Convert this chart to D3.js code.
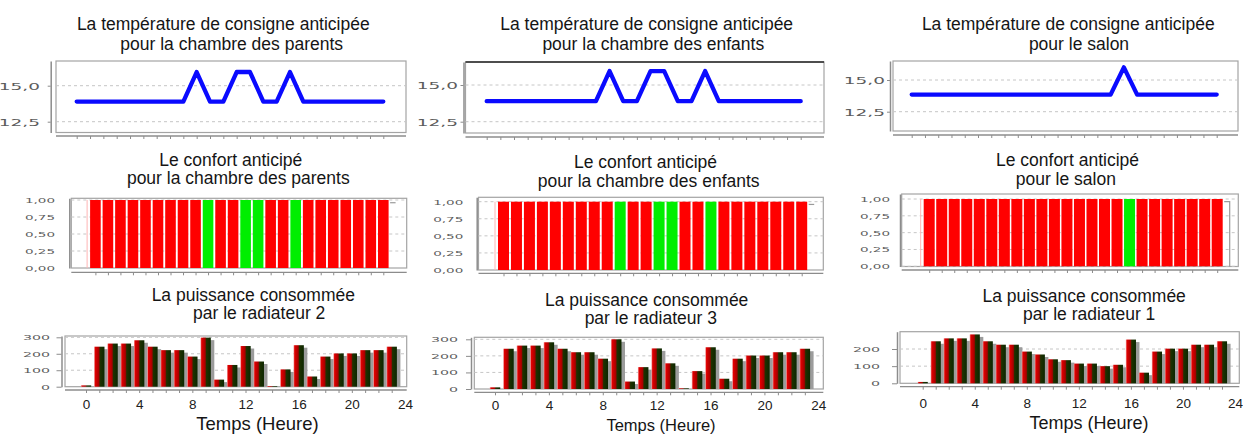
<!DOCTYPE html>
<html><head><meta charset="utf-8">
<script src="https://cdn.jsdelivr.net/npm/d3@7"></script>
<style>
html,body{margin:0;padding:0;background:#fff;}
svg{display:block;}
</style></head><body>
<svg id="chart" width="1243" height="435"></svg>
<script>
// ---------------- DATA ----------------
const hours = [0,1,2,3,4,5,6,7,8,9,10,11,12,13,14,15,16,17,18,19,20,21,22,23];

const tempParents = [13.9,13.9,13.9,13.9,13.9,13.9,13.9,13.9,13.9,15.95,13.9,13.9,15.95,15.95,13.9,13.9,15.95,13.9,13.9,13.9,13.9,13.9,13.9,13.9];
const tempEnfants = [13.9,13.9,13.9,13.9,13.9,13.9,13.9,13.9,13.9,15.95,13.9,13.9,15.95,15.95,13.9,13.9,15.95,13.9,13.9,13.9,13.9,13.9,13.9,13.9];
const tempSalon   = [13.85,13.85,13.85,13.85,13.85,13.85,13.85,13.85,13.85,13.85,13.85,13.85,13.85,13.85,13.85,13.85,16.0,13.85,13.85,13.85,13.85,13.85,13.85,13.85];

const comfortParents = [1,1,1,1,1,1,1,1,1,1,1,1,1,1,1,1,1,1,1,1,1,1,1,1];
const comfortEnfants = [1,1,1,1,1,1,1,1,1,1,1,1,1,1,1,1,1,1,1,1,1,1,1,1];
const comfortSalon   = [1,1,1,1,1,1,1,1,1,1,1,1,1,1,1,1,1,1,1,1,1,1,1,1];
// 1 = confort atteint (vert), 0 = non atteint (rouge)
const comfortMetParents = [0,0,0,0,0,0,0,0,0,1,0,0,1,1,0,0,1,0,0,0,0,0,0,0];
const comfortMetEnfants = [0,0,0,0,0,0,0,0,0,1,0,0,1,1,0,0,1,0,0,0,0,0,0,0];
const comfortMetSalon   = [0,0,0,0,0,0,0,0,0,0,0,0,0,0,0,0,1,0,0,0,0,0,0,0];

const powerRad2 = [8,243,262,262,282,243,222,222,183,298,43,132,247,153,4,105,252,62,183,202,202,222,222,243];
const powerRad3 = [10,243,262,262,282,243,222,222,183,300,45,132,245,155,4,108,252,62,183,202,202,222,222,243];
const powerRad1 = [8,245,262,262,285,245,225,225,185,168,140,135,115,115,100,108,255,62,185,202,202,225,225,245];

const tempTicks = [12.5, 15.0];
const comfortTicks = [0, 0.25, 0.5, 0.75, 1.0];
const powerTicks = [0, 100, 200, 300];
const powerTicksRad1 = [0, 100, 200];
const hourLabels = [0, 4, 8, 12, 16, 20, 24];

const titlesTemp = [
  ["La température de consigne anticipée", "pour la chambre des parents"],
  ["La température de consigne anticipée", "pour la chambre des enfants"],
  ["La température de consigne anticipée", "pour le salon"]];
const titlesComfort = [
  ["Le confort anticipé", "pour la chambre des parents"],
  ["Le confort anticipé", "pour la chambre des enfants"],
  ["Le confort anticipé", "pour le salon"]];
const titlesPower = [
  ["La puissance consommée", "par le radiateur 2"],
  ["La puissance consommée", "par le radiateur 3"],
  ["La puissance consommée", "par le radiateur 1"]];
const xAxisTitle = "Temps (Heure)";

// ---------------- STYLE / LAYOUT ----------------
const svg = d3.select('#chart');
const fr = d3.formatLocale({decimal: ",", thousands: "\u00a0", grouping: [3], currency: ["", " €"]});
const GRID = "#c6c6c6", BOX = "#a4a4a4", AXIS = "#8c8c8c", LABEL = "#5c5c5c";
const TITLE_FONT = "'Liberation Sans', Arial, sans-serif";

const defs = svg.append('defs');
const grad = defs.append('linearGradient').attr('id', 'barGrad')
  .attr('x1', 0).attr('x2', 1).attr('y1', 0).attr('y2', 0);
[[0, '#f3a8a8'], [0.12, '#e00000'], [0.45, '#a80000'], [0.58, '#1e3200'], [1, '#0c2600']]
  .forEach(([o, c]) => grad.append('stop').attr('offset', o).attr('stop-color', c));

function drawTitle(lines, pos, size) {
  lines.forEach((s, i) => {
    svg.append('text').attr('x', pos[i][0]).attr('y', pos[i][1])
      .attr('text-anchor', 'middle').style('font-family', TITLE_FONT)
      .style('font-size', size + 'px').attr('fill', '#151515').text(s);
  });
}

function frame(g, box, axY) {
  const [l, t, r, b] = box;
  g.append('rect').attr('x', l).attr('y', t).attr('width', r - l).attr('height', b - t)
    .attr('fill', '#fff').attr('stroke', BOX).attr('stroke-width', 1.2);
  g.append('line').attr('x1', l).attr('x2', r).attr('y1', axY).attr('y2', axY)
    .attr('stroke', AXIS).attr('stroke-width', 1.3);
}

function grid(g, box, y, ticks) {
  g.append('g').selectAll('line').data(ticks.filter(v => v > y.domain()[0] + 1e-9)).join('line')
    .attr('x1', box[0]).attr('x2', box[2]).attr('y1', d => y(d)).attr('y2', d => y(d))
    .attr('stroke', GRID).attr('stroke-dasharray', '3,3');
}

function yAxis(g, y, ticks, fmt, axX, labR, sx, sy, tickLen) {
  const ax = g.append('g').attr('transform', `translate(${axX},0)`)
    .call(d3.axisLeft(y).tickValues(ticks).tickFormat(fmt).tickSize(tickLen).tickSizeOuter(0));
  ax.select('.domain').attr('stroke', AXIS).attr('stroke-width', 1.5);
  ax.selectAll('.tick line').attr('stroke', AXIS);
  ax.selectAll('.tick text').attr('x', 0).attr('dy', '0.36em')
    .attr('transform', `translate(${labR - axX},0) scale(${sx},${sy})`)
    .attr('text-anchor', 'end').attr('fill', LABEL)
    .style('font-family', "'DejaVu Sans', sans-serif").style('font-size', '10px');
}

function xTicks(g, x, vals, axY, len) {
  const ax = g.append('g').attr('transform', `translate(0,${axY})`)
    .call(d3.axisBottom(x).tickValues(vals).tickFormat('').tickSize(len).tickSizeOuter(0));
  ax.select('.domain').remove();
  ax.selectAll('.tick line').attr('stroke', AXIS);
  return ax;
}

// ---------------- TEMPERATURE PANELS ----------------
const tempCfg = [
  {box: [56, 61, 406, 132.5], axX: 50.7, axY: 136, xr: [76.7, 383.3], yref: [121.7, 85.7], labR: 40,
   tp: [[223.3, 30], [231.7, 50]], darkTop: false},
  {box: [465.5, 62, 824, 133], axX: 463.5, axY: 137, xr: [486.7, 800.7], yref: [121.7, 85], labR: 458,
   tp: [[646.7, 29.5], [653.3, 50]], darkTop: true},
  {box: [893, 61, 1238, 131], axX: 890, axY: 135, xr: [911.7, 1216.7], yref: [111.7, 80], labR: 885,
   tp: [[1068.3, 30], [1079, 50]], darkTop: false}];
const tempData = [tempParents, tempEnfants, tempSalon];

tempCfg.forEach((c, k) => {
  const g = svg.append('g');
  const [l, t, r, b] = c.box;
  const yRef = d3.scaleLinear().domain([tempTicks[0], tempTicks[1]]).range(c.yref);
  const y = d3.scaleLinear().domain([yRef.invert(b), yRef.invert(t)]).range([b, t]);
  const x = d3.scaleLinear().domain([hours[0], hours[hours.length - 1]]).range(c.xr);
  frame(g, c.box, c.axY);
  if (c.darkTop) g.append('line').attr('x1', l).attr('x2', r).attr('y1', t).attr('y2', t)
    .attr('stroke', '#262626').attr('stroke-width', 1.4);
  grid(g, c.box, y, tempTicks);
  yAxis(g, y, tempTicks, fr.format('.1f'), c.axX, c.labR, 1.85, 0.95, 3);
  xTicks(g, x, hours, c.axY, 3);
  g.append('path').datum(tempData[k])
    .attr('d', d3.line().x((d, i) => x(hours[i])).y(d => y(d)))
    .attr('fill', 'none').attr('stroke', '#0a0aff').attr('stroke-width', 4.3)
    .attr('stroke-linejoin', 'round').attr('stroke-linecap', 'round');
  drawTitle(titlesTemp[k], c.tp, 17.5);
});

// ---------------- COMFORT PANELS ----------------
const comfCfg = [
  {box: [71.3, 198.3, 406.7, 268], axX: 69.3, axY: 272.3, xr: [95.4, 383.3], yref: [268, 200], labR: 55,
   bw: 10.6, tp: [[230.8, 166], [238.3, 184.2]], drop: false},
  {box: [478.5, 197.3, 823.3, 270], axX: 476.7, axY: 273.3, xr: [503.5, 801.7], yref: [270, 201.7], labR: 463.3,
   bw: 11, tp: [[645.5, 168.3], [648.7, 186.7]], drop: false},
  {box: [901.7, 194, 1238.3, 266.5], axX: 900, axY: 270, xr: [929.2, 1217.2], yref: [266.3, 199], labR: 890,
   bw: 11, tp: [[1067.5, 166.3], [1065.8, 184.8]], drop: true}];
const comfData = [comfortParents, comfortEnfants, comfortSalon];
const comfMet = [comfortMetParents, comfortMetEnfants, comfortMetSalon];

comfCfg.forEach((c, k) => {
  const g = svg.append('g');
  const [l, t, r, b] = c.box;
  const yRef = d3.scaleLinear().domain([0, 1]).range(c.yref);
  const y = d3.scaleLinear().domain([yRef.invert(b), yRef.invert(t)]).range([b, t]);
  const x = d3.scaleLinear().domain([hours[0], hours[hours.length - 1]]).range(c.xr);
  frame(g, c.box, c.axY);
  grid(g, c.box, y, comfortTicks);
  yAxis(g, y, comfortTicks, fr.format('.2f'), c.axX, c.labR, 1.35, 0.7, 0);
  xTicks(g, x, hours, c.axY, 3);
  // faint series outline
  g.append('line').attr('x1', x(hours[0]) - c.bw / 2 - 3).attr('x2', x(hours[0]) - c.bw / 2 - 3)
    .attr('y1', y(0)).attr('y2', y(comfData[k][0])).attr('stroke', '#ffb4b4').attr('stroke-width', 1);
  const xe = x(hours[23]) + c.bw / 2 + 1.5;
  const p = d3.path();
  p.moveTo(xe, y(comfData[k][23] * 0.96)); p.lineTo(xe + 5.5, y(comfData[k][23] * 0.96));
  if (c.drop) p.lineTo(xe + 5.5, y(0));
  g.append('path').attr('d', p.toString()).attr('fill', 'none').attr('stroke', '#9a9a9a').attr('stroke-width', 1.2);
  g.append('g').selectAll('rect').data(comfData[k]).join('rect')
    .attr('x', (d, i) => x(hours[i]) - c.bw / 2).attr('width', c.bw)
    .attr('y', d => y(d)).attr('height', d => y(0) - y(d))
    .attr('fill', (d, i) => comfMet[k][i] ? '#00ee00' : '#ff0000');
  drawTitle(titlesComfort[k], c.tp, 17.5);
});

// ---------------- POWER PANELS ----------------
const powCfg = [
  {box: [65, 336, 406.7, 386.7], axX: 61.5, axY: 390, xr: [86, 405], yref: [[0, 386.7], [300, 337.3]], labR: 50,
   ticks: powerTicks, tp: [[253.3, 300.7], [259.2, 319]], labBase: 409, at: [257.5, 429.5, 18.5]},
  {box: [474.3, 337.3, 823.3, 389], axX: 471, axY: 392.3, xr: [495, 818.3], yref: [[0, 389], [300, 339.3]], labR: 458,
   ticks: powerTicks, tp: [[646.7, 305.7], [650.8, 324.2]], labBase: 410, at: [661, 431, 16.5]},
  {box: [900, 331.7, 1239.3, 383.3], axX: 897, axY: 386.7, xr: [922.7, 1235], yref: [[0, 383.3], [200, 349]], labR: 880,
   ticks: powerTicksRad1, tp: [[1084.2, 301.7], [1089.2, 320]], labBase: 408, at: [1089, 429, 18]}];
const powData = [powerRad2, powerRad3, powerRad1];

powCfg.forEach((c, k) => {
  const g = svg.append('g');
  const [l, t, r, b] = c.box;
  const yRef = d3.scaleLinear().domain([c.yref[0][0], c.yref[1][0]]).range([c.yref[0][1], c.yref[1][1]]);
  const y = d3.scaleLinear().domain([yRef.invert(b), yRef.invert(t)]).range([b, t]);
  const x = d3.scaleLinear().domain([hourLabels[0], hourLabels[hourLabels.length - 1]]).range(c.xr);
  const bw = (x(1) - x(0)) * 0.78;
  frame(g, c.box, c.axY);
  grid(g, c.box, y, c.ticks);
  yAxis(g, y, c.ticks, fr.format('d'), c.axX, c.labR, 1.42, 0.68, 5);
  xTicks(g, x, hours, c.axY, 3);
  const lab = g.append('g').attr('transform', `translate(0,${c.axY})`)
    .call(d3.axisBottom(x).tickValues(hourLabels).tickFormat(d => String(d)).tickSize(0).tickSizeOuter(0));
  lab.select('.domain').remove();
  lab.selectAll('.tick text').attr('y', c.labBase - c.axY).attr('dy', null).attr('fill', '#202020')
    .style('font-family', TITLE_FONT).style('font-size', '13.5px');
  // shadows
  g.append('g').selectAll('rect').data(powData[k]).join('rect')
    .attr('x', (d, i) => x(hours[i]) - bw / 2 + 3.5).attr('width', bw)
    .attr('y', d => Math.min(y(d) + 2.5, y(0))).attr('height', d => Math.max(0, y(0) - y(d) - 2.5))
    .attr('fill', '#9c9c9c');
  g.append('g').selectAll('rect').data(powData[k]).join('rect')
    .attr('x', (d, i) => x(hours[i]) - bw / 2).attr('width', bw)
    .attr('y', d => y(d)).attr('height', d => y(0) - y(d))
    .attr('fill', 'url(#barGrad)');
  drawTitle(titlesPower[k], c.tp, 17.5);
  svg.append('text').attr('x', c.at[0]).attr('y', c.at[1]).attr('text-anchor', 'middle')
    .style('font-family', TITLE_FONT).style('font-size', c.at[2] + 'px').attr('fill', '#151515').text(xAxisTitle);
});
</script>
</body></html>
